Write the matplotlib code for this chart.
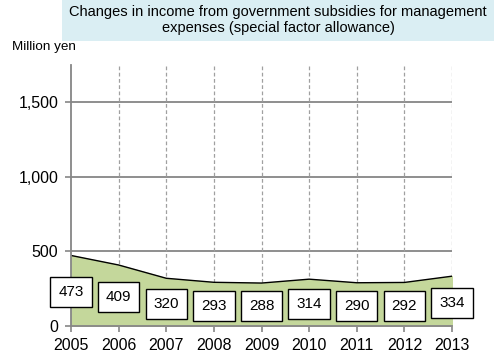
import matplotlib.pyplot as plt
import numpy as np

plt.rcParams['font.family'] = ['Liberation Sans', 'DejaVu Sans']

years = [2005, 2006, 2007, 2008, 2009, 2010, 2011, 2012, 2013]
income = [473, 409, 320, 293, 288, 314, 290, 292, 334]
label_pos = [228, 195, 148, 133, 133, 148, 133, 133, 155]
yticks = [0, 500, 1000, 1500]
ytick_labels = ['0', '500', '1,000', '1,500']

fig = plt.figure(figsize=(4.94, 3.6), dpi=100)
ax = fig.add_axes([71 / 494, 1 - 326 / 360, (452 - 71) / 494, 261 / 360])

ax.fill_between(years, income, 0, color='#c4d79b', zorder=2)
ax.plot(years, income, color='black', lw=1, zorder=3)

ax.set_xlim(2005, 2013)
ax.set_ylim(0, 1750)
ax.set_xticks(years)
ax.set_xticklabels([str(y) for y in years], fontsize=11.5)
ax.set_yticks(yticks)
ax.set_yticklabels(ytick_labels, fontsize=11.5)

for y in yticks[1:]:
    ax.axhline(y, color='#868686', lw=1.3, zorder=1)
for x in years[1:]:
    ax.axvline(x, color='#a0a0a0', lw=0.9, ls=(0, (3, 2)), zorder=1)

for sp in ['top', 'right']:
    ax.spines[sp].set_visible(False)
for sp in ['left', 'bottom']:
    ax.spines[sp].set_color('#868686')
    ax.spines[sp].set_linewidth(1.3)
    ax.spines[sp].set_zorder(4)
ax.tick_params(axis='both', colors='#868686', labelcolor='black', length=4, width=1.2)
ax.tick_params(axis='x', pad=5)
ax.tick_params(axis='y', pad=5)

for x, v, p in zip(years, income, label_pos):
    ax.text(x, p, str(v), ha='center', va='center', fontsize=11, zorder=5,
            bbox=dict(boxstyle='square,pad=0.52', fc='white', ec='black', lw=1))

fig.patches.append(plt.Rectangle((62 / 494, 1 - 41 / 360), 1 - 62 / 494, 41 / 360,
                                 transform=fig.transFigure, fc='#daeef3', ec='none'))
fig.text(278 / 494, 1 - 20 / 360,
         'Changes in income from government subsidies for management\nexpenses (special factor allowance)',
         ha='center', va='center', fontsize=10.5, linespacing=1.1)
fig.text(12 / 494, 1 - 47 / 360, 'Million yen', ha='left', va='center', fontsize=9.7)

fig.savefig('out.png', dpi=100)
